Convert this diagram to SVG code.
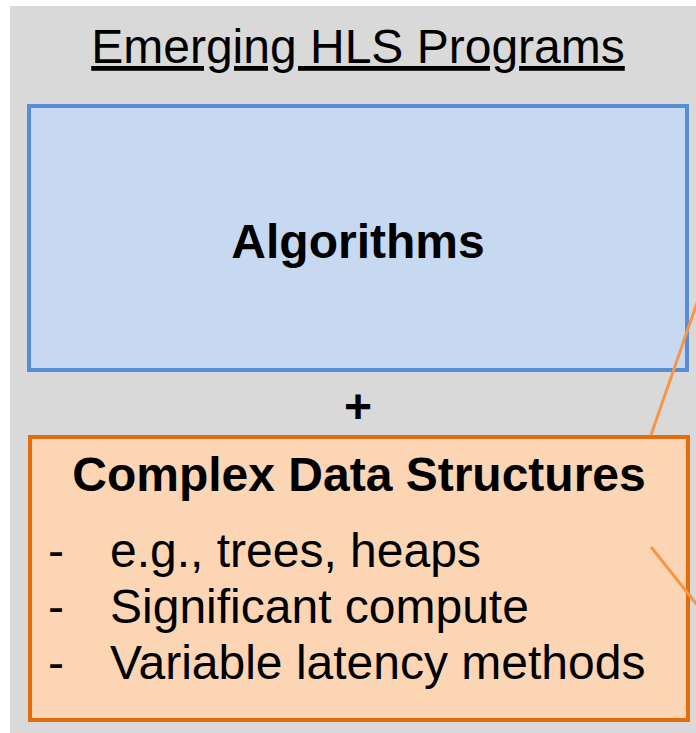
<svg xmlns="http://www.w3.org/2000/svg" width="696" height="733" viewBox="0 0 696 733">
  <style>
    .title { font-family: "Liberation Sans", Arial, sans-serif; font-size: 48px; fill: #000; text-decoration: underline; }
    .head { font-family: "Liberation Sans", Arial, sans-serif; font-size: 48px; font-weight: bold; fill: #000; }
    .item { font-family: "Liberation Sans", Arial, sans-serif; font-size: 48px; fill: #000; }
    .link { stroke: #F79646; stroke-width: 3; fill: none; }
  </style>
  <rect x="0" y="0" width="696" height="733" fill="#FFFFFF"/>
  <!-- panel background -->
  <rect x="10" y="6" width="686" height="727" fill="#D9D9D9"/>
  <text class="title" x="358" y="63" text-anchor="middle">Emerging HLS Programs</text>

  <g id="algorithms">
    <rect x="29" y="106" width="658" height="264" fill="#C6D9F1" stroke="#558ED5" stroke-width="4"/>
    <text class="head" x="358" y="258" text-anchor="middle">Algorithms</text>
  </g>

  <g id="plus">
    <text class="head" x="358" y="423" text-anchor="middle" font-size="36">+</text>
  </g>

  <g id="data-structures">
    <rect x="30" y="437" width="658" height="283" fill="#FCD5B5" stroke="#E46C0A" stroke-width="4"/>
    <text class="head" x="359" y="491" text-anchor="middle">Complex Data Structures</text>
    <text class="item" x="48" y="567">-</text>
    <text class="item" x="110" y="567">e.g., trees, heaps</text>
    <text class="item" x="48" y="623">-</text>
    <text class="item" x="110" y="623">Significant compute</text>
    <text class="item" x="48" y="679">-</text>
    <text class="item" x="110" y="679">Variable latency methods</text>
  </g>

  <g id="connectors">
    <line class="link" x1="651" y1="435" x2="698" y2="300"/>
    <line class="link" x1="651" y1="547" x2="698" y2="606"/>
  </g>
</svg>
